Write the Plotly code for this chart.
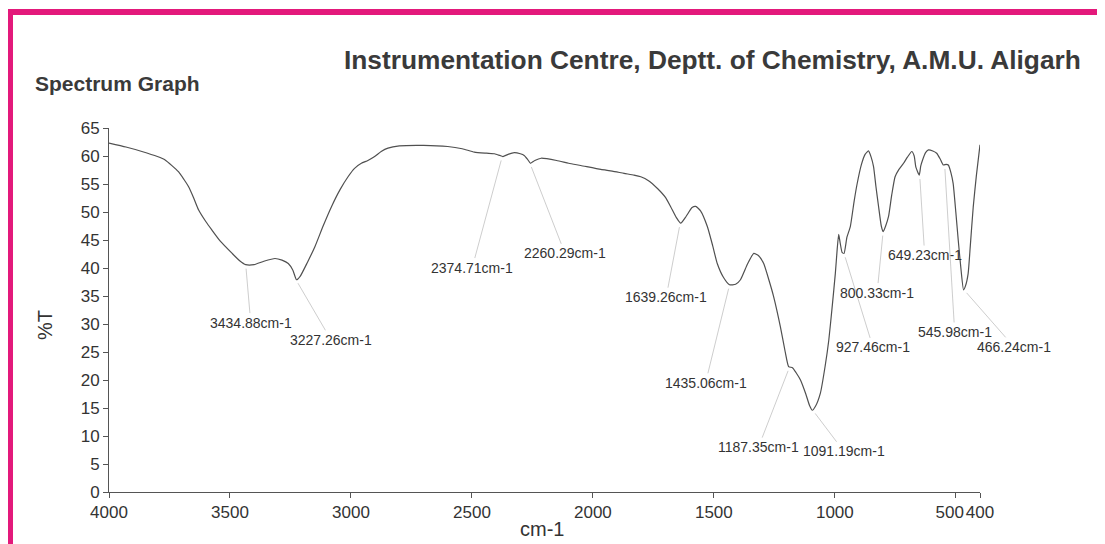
import plotly.graph_objects as go

# ---- data ----
wavenumber = [4000, 3930, 3864, 3800, 3768, 3713, 3690, 3671, 3650, 3630, 3600, 3575, 3540, 3493,
              3460, 3435, 3400, 3360, 3314, 3285, 3259, 3240, 3225, 3210, 3180, 3149, 3115, 3080,
              3045, 3012, 2985, 2957, 2930, 2902, 2875, 2847, 2800, 2700, 2600, 2540, 2490, 2440,
              2407, 2385, 2372, 2350, 2325, 2300, 2284, 2270, 2258, 2240, 2214, 2150, 2100, 2050,
              1967, 1920, 1871, 1830, 1802, 1770, 1733, 1700, 1678, 1655, 1637, 1615, 1590, 1575,
              1555, 1527, 1505, 1486, 1460, 1435, 1410, 1390, 1360, 1335, 1315, 1294, 1270, 1253,
              1225, 1205, 1191, 1175, 1160, 1142, 1120, 1105, 1093, 1080, 1060, 1040, 1025, 1010,
              998, 990, 984, 978, 970, 962, 950, 936, 920, 908, 890, 875, 861, 850, 840, 830, 819,
              808, 800, 790, 778, 765, 751, 735, 716, 700, 682, 672, 665, 651, 645, 638, 625, 613,
              595, 579, 565, 552, 540, 531, 520, 511, 500, 490, 478, 468, 460, 449, 440, 428, 415, 400]
transmittance = [62.3, 61.6, 60.8, 59.9, 59.3, 57.2, 55.8, 54.5, 52.5, 50.4, 48.3, 46.8, 44.8, 42.7,
                 41.3, 40.6, 40.6, 41.2, 41.7, 41.4, 40.8, 39.6, 37.9, 38.5, 41.0, 43.8, 47.5, 51.0,
                 54.0, 56.3, 57.8, 58.7, 59.2, 59.9, 60.8, 61.4, 61.8, 61.9, 61.7, 61.3, 60.7, 60.5,
                 60.4, 60.1, 59.9, 60.3, 60.6, 60.4, 60.1, 59.4, 58.7, 59.2, 59.6, 59.2, 58.7, 58.3,
                 57.6, 57.3, 56.9, 56.6, 56.3, 55.6, 54.2, 52.6, 50.9, 49.0, 48.0, 49.2, 50.8, 51.0,
                 50.2, 47.4, 44.0, 40.8, 38.3, 37.0, 37.1, 37.9, 40.8, 42.6, 42.2, 40.8, 37.5, 34.9,
                 29.5, 25.0, 22.4, 22.2, 21.3, 20.0, 17.5, 15.5, 14.6, 15.3, 17.6, 22.5, 27.1, 33.5,
                 39.0, 43.5, 46.0, 44.5, 42.8, 42.6, 45.5, 47.4, 52.0, 55.0, 58.5, 60.3, 60.9, 59.8,
                 58.1, 54.5, 50.9, 47.5, 46.5, 47.5, 49.2, 53.0, 56.3, 57.6, 58.7, 59.8, 60.8, 60.0,
                 58.0, 56.6, 58.2, 59.2, 60.6, 61.1, 60.9, 60.5, 59.5, 58.4, 58.5, 58.4, 57.0, 55.1,
                 50.0, 45.0, 39.5, 36.1, 36.8, 39.0, 44.0, 50.9, 56.5, 62.0]

peak_labels = ["3434.88cm-1", "3227.26cm-1", "2374.71cm-1", "2260.29cm-1", "1639.26cm-1",
               "1435.06cm-1", "1187.35cm-1", "1091.19cm-1", "927.46cm-1", "800.33cm-1",
               "649.23cm-1", "545.98cm-1", "466.24cm-1"]
peak_wn = [3434.88, 3227.26, 2374.71, 2260.29, 1639.26, 1435.06, 1187.35, 1091.19, 962, 800.33,
           649.23, 545.98, 466.24]
peak_T = [40.6, 37.9, 59.9, 58.7, 48.0, 37.0, 22.3, 14.6, 42.6, 46.5, 56.6, 58.4, 36.1]

x_tickvals = [4000, 3500, 3000, 2500, 2000, 1500, 1000, 400]
x_ticktext = ["4000", "3500", "3000", "2500", "2000", "1500", "1000", "400"]
x2_tickvals = [500]
x2_ticktext = ["500"]
y_tickvals = [0, 5, 10, 15, 20, 25, 30, 35, 40, 45, 50, 55, 60, 65]

# ---- layout geometry (screen pixels; page body has an 8px margin) ----
OFF = 8
W, H = 1105 - OFF, 544 - OFF
L, R, T, B = 109 - OFF, 980 - OFF, 128 - OFF, 492 - OFF


def px(xs):
    return (xs - OFF - L) / (R - L)


def py(ys):
    return (B - (ys - OFF)) / (B - T)


# label text offsets from leader anchor (pixels)
label_dx = [5, 35, -30, 35, -14, -24, -31, 31, 29, -6, 5, 10, 50]
label_dy = [58, 60, 111, 90, 74, 98, 80, 41, 94, 61, 80, 167, 57]

ink = "#333333"
FONT = "Liberation Sans, Arial, sans-serif"
fig = go.Figure()
fig.add_trace(go.Scatter(x=wavenumber, y=transmittance, mode="lines",
                         line=dict(color="#505050", width=1.2, shape="spline", smoothing=0.5),
                         hoverinfo="skip", showlegend=False))
# invisible companion trace so the secondary x axis (carrying the 500 tick) is drawn
fig.add_trace(go.Scatter(x=[wavenumber[0], wavenumber[-1]], y=[None, None], xaxis="x2", yaxis="y",
                         mode="lines", hoverinfo="skip", showlegend=False))

annotations = []
for lab, xw, yt, dx, dy in zip(peak_labels, peak_wn, peak_T, label_dx, label_dy):
    annotations.append(dict(x=xw, y=yt, xref="x", yref="y", text=lab, showarrow=True,
                            arrowhead=0, arrowwidth=0.7, arrowcolor="#b8b8b8", standoff=4,
                            ax=dx, ay=dy, font=dict(family=FONT, size=14, color=ink)))

annotations.append(dict(x=px(342), y=py(60), xref="paper", yref="paper", xanchor="left", yanchor="middle",
                        text="<b>Instrumentation Centre, Deptt. of Chemistry, A.M.U. Aligarh</b>",
                        showarrow=False, font=dict(family=FONT, size=26.3, color="#3a3a3a")))
annotations.append(dict(x=px(33), y=py(83), xref="paper", yref="paper", xanchor="left", yanchor="middle",
                        text="<b>Spectrum Graph</b>", showarrow=False,
                        font=dict(family=FONT, size=21, color="#3a3a3a")))
annotations.append(dict(x=px(45), y=py(325), xref="paper", yref="paper", xanchor="center", yanchor="middle",
                        text="%T", textangle=-90, showarrow=False,
                        font=dict(family=FONT, size=20, color=ink)))
annotations.append(dict(x=px(542), y=py(529), xref="paper", yref="paper", xanchor="center", yanchor="middle",
                        text="cm-1", showarrow=False,
                        font=dict(family=FONT, size=20, color=ink)))

shapes = [dict(type="rect", xref="paper", yref="paper", x0=px(10), x1=px(1102), y0=py(590), y1=py(12),
               line=dict(color="#E3197B", width=6), fillcolor="rgba(0,0,0,0)", layer="above")]

axis_common = dict(showgrid=False, zeroline=False, ticks="outside", ticklen=5, tickcolor="#555555",
                   tickfont=dict(size=17, color=ink))

fig.update_layout(
    width=W, height=H, autosize=False,
    margin=dict(l=L, r=W - R, t=T, b=H - B, pad=0),
    paper_bgcolor="white", plot_bgcolor="white",
    font=dict(family=FONT, color=ink),
    annotations=annotations, shapes=shapes,
    xaxis=dict(range=[4000, 400], tickvals=x_tickvals, ticktext=x_ticktext, tickangle=0,
               showline=True, linecolor="#555555", linewidth=1, **axis_common),
    xaxis2=dict(range=[4000, 400], overlaying="x", side="bottom", anchor="y", tickvals=x2_tickvals,
                ticktext=x2_ticktext, tickangle=0, showline=False, ticklabelshift=6, **axis_common),
    yaxis=dict(range=[0, 65], tickvals=y_tickvals, showline=True, linecolor="#555555", linewidth=1,
               ticklabelstandoff=0, **axis_common),
)

fig.write_html("out.html")
